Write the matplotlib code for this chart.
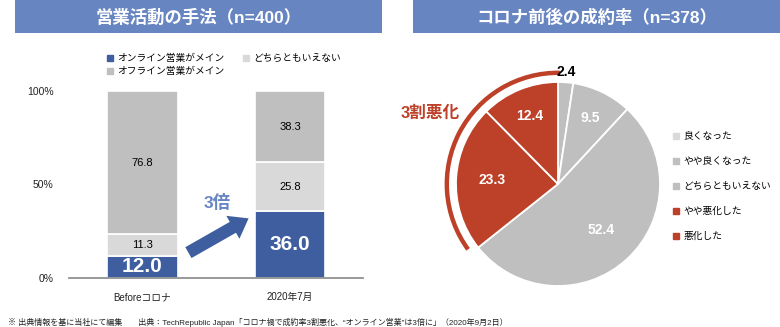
import numpy as np
import matplotlib
matplotlib.use("Agg")
import matplotlib.pyplot as plt
import matplotlib.patches as mpatches
from matplotlib.lines import Line2D

plt.rcParams['font.family'] = ['Liberation Sans', 'Noto Sans CJK JP']

# データ（左：営業活動の手法）
periods = ['Beforeコロナ', '2020年7月']
online = [12.0, 36.0]
neutral = [11.3, 25.8]
offline = [76.8, 38.3]
bar_series = ['オンライン営業がメイン', 'どちらともいえない', 'オフライン営業がメイン']

# データ（右：コロナ前後の成約率）
pie_labels = ['良くなった', 'やや良くなった', 'どちらともいえない', 'やや悪化した', '悪化した']
pie_values = [2.4, 9.5, 52.4, 23.3, 12.4]

BLUE = '#3f5e9f'
TITLE_BG = '#6785c1'
GRAY = '#bfbfbf'
LGRAY = '#d9d9d9'
RED = '#bd4129'

W, H = 780, 327
fig = plt.figure(figsize=(W / 100, H / 100), dpi=100)


def px(x, y):
    # 画素座標 -> 図の割合
    return x / W, 1 - y / H


def box(x0, y0, x1, y1):
    return [x0 / W, 1 - y1 / H, (x1 - x0) / W, (y1 - y0) / H]


# タイトル帯
for (x0, x1, t) in [(15, 382, '営業活動の手法（n=400）'), (413, 780, 'コロナ前後の成約率（n=378）')]:
    fig.add_artist(mpatches.Rectangle((x0 / W, 1 - 33 / H), (x1 - x0) / W, 33 / H,
                                      transform=fig.transFigure, color=TITLE_BG, lw=0))
    fig.text((x0 + x1) / 2 / W, 1 - 17 / H, t, color='white', fontsize=12.5,
             fontweight='bold', ha='center', va='center')

# 左：積み上げ棒
ax = fig.add_axes(box(69, 91, 363, 278))
x = np.arange(len(periods))
bw = 0.48
ax.bar(x, online, bw, color=BLUE, edgecolor='white', lw=1.2, clip_on=False)
ax.bar(x, neutral, bw, bottom=online, color=LGRAY, edgecolor='white', lw=1.2, clip_on=False)
bottom2 = np.array(online) + np.array(neutral)
ax.bar(x, offline, bw, bottom=bottom2, color=GRAY, edgecolor='white', lw=1.2, clip_on=False)
ax.set_xlim(-0.498, 1.495)
ax.set_ylim(0, 100)
ax.set_yticks([0, 50, 100])
ax.set_yticklabels(['0%', '50%', '100%'])
ax.set_xticks(x)
ax.set_xticklabels(periods)
ax.tick_params(length=0, labelsize=7.5, colors='#222222')
ax.tick_params(axis='x', labelsize=7)
ax.tick_params(axis='y', pad=11)
ax.tick_params(axis='x', pad=10)
for s in ['top', 'right', 'left']:
    ax.spines[s].set_visible(False)
ax.spines['bottom'].set_color('#888888')
ax.spines['bottom'].set_linewidth(1.2)
ax.set_zorder(2)

for i in range(len(periods)):
    ax.text(x[i], online[i] / 2, f'{online[i]:.1f}', color='white', fontsize=15,
            fontweight='bold', ha='center', va='center')
    ax.text(x[i], online[i] + neutral[i] / 2, f'{neutral[i]:.1f}', fontsize=8,
            ha='center', va='center')
    ax.text(x[i], bottom2[i] + offline[i] / 2, f'{offline[i]:.1f}', fontsize=8,
            ha='center', va='center')

handles = [Line2D([], [], ls='', marker='s', ms=4, color=c) for c in [BLUE, GRAY, LGRAY]]
leg = fig.legend(handles, [bar_series[0], bar_series[2], bar_series[1]], ncol=2,
                 loc='upper left', bbox_to_anchor=px(107, 53), frameon=False, fontsize=7,
                 handlelength=0.6, handletextpad=0.4, columnspacing=2.0, labelspacing=0.3,
                 borderpad=0, borderaxespad=0)

# 矢印と「3倍」
fig.add_artist(mpatches.FancyArrowPatch(
    ((186) / 100, (H - 254) / 100), (251 / 100, (H - 217) / 100),
    transform=fig.dpi_scale_trans, arrowstyle='simple,head_width=19,head_length=13,tail_width=9',
    mutation_scale=1, color=BLUE, lw=0, zorder=5))
fig.text(*px(217, 203), '3倍', color=TITLE_BG, fontsize=12.5, fontweight='bold',
         ha='center', va='center')

# 右：円グラフ
R = 102
half = 1.2 * R
pax = fig.add_axes(box(558 - half, 184 - half, 558 + half, 184 + half))
colors = [GRAY, GRAY, GRAY, RED, RED]
wedges, _ = pax.pie(pie_values, colors=colors, startangle=90, counterclock=False,
                    wedgeprops=dict(edgecolor='white', linewidth=1.3))
pax.set_xlim(-1.2, 1.2)
pax.set_ylim(-1.2, 1.2)
pax.set_aspect('equal')
pax.axis('off')

dists = [1.1, 0.72, 0.62, 0.65, 0.72]
for w, v, d in zip(wedges, pie_values, dists):
    a = np.deg2rad((w.theta1 + w.theta2) / 2)
    col = 'black' if d > 1 else 'white'
    pax.text(d * np.cos(a), d * np.sin(a), f'{v:.1f}', fontsize=10, fontweight='bold',
             color=col, ha='center', va='center')

pax.add_patch(mpatches.Arc((0, 0), 2 * 1.09, 2 * 1.09, theta1=89, theta2=216,
                           color=RED, lw=3.2))
fig.text(*px(430, 113), '3割悪化', color=RED, fontsize=12, fontweight='bold',
         ha='center', va='center')

pie_colors = [LGRAY, GRAY, GRAY, RED, RED]
ph = [Line2D([], [], ls='', marker='s', ms=4, color=c) for c in pie_colors]
fig.legend(ph, pie_labels, loc='upper left', bbox_to_anchor=px(673, 131), frameon=False,
           fontsize=7, handlelength=0.6, handletextpad=0.5, labelspacing=1.55,
           borderpad=0, borderaxespad=0)

fig.text(*px(8, 322), '※ 出典情報を基に当社にて編集　　出典：TechRepublic Japan「コロナ禍で成約率3割悪化、“オンライン営業”は3倍に」（2020年9月2日）',
         fontsize=5.8, color='#222222', ha='left', va='center')

fig.savefig('out.png', dpi=100)
